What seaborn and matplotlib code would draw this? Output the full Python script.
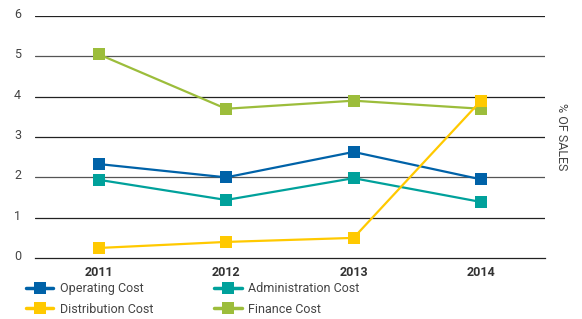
import pandas as pd
import matplotlib.pyplot as plt
import matplotlib.transforms as mtransforms
import seaborn as sns

years = ["2011", "2012", "2013", "2014"]
operating = [2.33, 2.0, 2.63, 1.95]
administration = [1.94, 1.44, 1.98, 1.39]
distribution = [0.25, 0.40, 0.50, 3.90]
finance = [5.05, 3.70, 3.90, 3.70]

series = {
    "Operating Cost": operating,
    "Administration Cost": administration,
    "Distribution Cost": distribution,
    "Finance Cost": finance,
}
colors = {
    "Operating Cost": "#0062a8",
    "Administration Cost": "#00a19b",
    "Distribution Cost": "#ffc900",
    "Finance Cost": "#9cbd3b",
}

rows = []
for name, vals in series.items():
    for y, v in zip(years, vals):
        rows.append({"year": y, "value": v, "series": name})
df = pd.DataFrame(rows)

sns.set_style("white")
plt.rcParams["font.family"] = ["Roboto", "DejaVu Sans"]

fig = plt.figure(figsize=(5.82, 3.19), dpi=100)
ax = fig.add_axes([0.060, 0.191, 0.876, 0.759])

# draw distribution last so its 2014 square sits on top of finance
draw_order = ["Operating Cost", "Administration Cost", "Finance Cost", "Distribution Cost"]
sns.lineplot(
    data=df, x="year", y="value", hue="series", style="series",
    hue_order=draw_order, style_order=draw_order,
    palette=colors, markers={k: "s" for k in series}, dashes=False,
    markersize=9, markeredgewidth=0, linewidth=1.6, ax=ax, legend=False,
    sort=False,
)

ax.set_xlim(-0.5, 3.5)
ax.set_ylim(0, 6)
ax.set_yticks(range(0, 7))
for yv in range(1, 7):
    ax.axhline(yv, color="#555555" if yv in (2, 5) else "#222222", lw=0.9, zorder=0)

for s in ["top", "left", "right"]:
    ax.spines[s].set_visible(False)
ax.spines["bottom"].set_color("#222222")
ax.spines["bottom"].set_linewidth(0.9)

ax.set_xticks(range(4))
ax.set_xticklabels(years, fontweight="bold", fontsize=9, color="#333333")
ax.set_xticks([-0.5, 0.5, 1.5, 2.5, 3.5], minor=True)
ax.tick_params(axis="x", which="major", length=0, pad=6)
ax.tick_params(axis="x", which="minor", direction="in", length=4, width=0.9, color="#222222")
ax.tick_params(axis="y", length=0, labelsize=9, labelcolor="#444444", pad=10)
shift = mtransforms.ScaledTranslation(0, 3 / 100, fig.dpi_scale_trans)
for lbl in ax.get_yticklabels():
    lbl.set_verticalalignment("center_baseline")
    lbl.set_transform(lbl.get_transform() + shift)

ax.set_xlabel("")
ax.set_ylabel("% OF SALES", rotation=-90, fontsize=9, color="#444444")
ax.yaxis.set_label_position("right")
ax.yaxis.set_label_coords(1.045, 0.5)

# legend fills column-wise, so order for row-wise reading
order = ["Operating Cost", "Distribution Cost", "Administration Cost", "Finance Cost"]
handles = [
    plt.Line2D([], [], color=colors[k], marker="s", markersize=9,
               markeredgewidth=0, linewidth=2.5)
    for k in order
]
fig.legend(
    handles, order, loc="lower left", bbox_to_anchor=(0.025, -0.025),
    ncol=2, frameon=False, fontsize=9, handlelength=2.2, columnspacing=4.9,
    labelspacing=0.6, handletextpad=0.5, labelcolor="#444444",
)

fig.savefig("out.png", dpi=100)
